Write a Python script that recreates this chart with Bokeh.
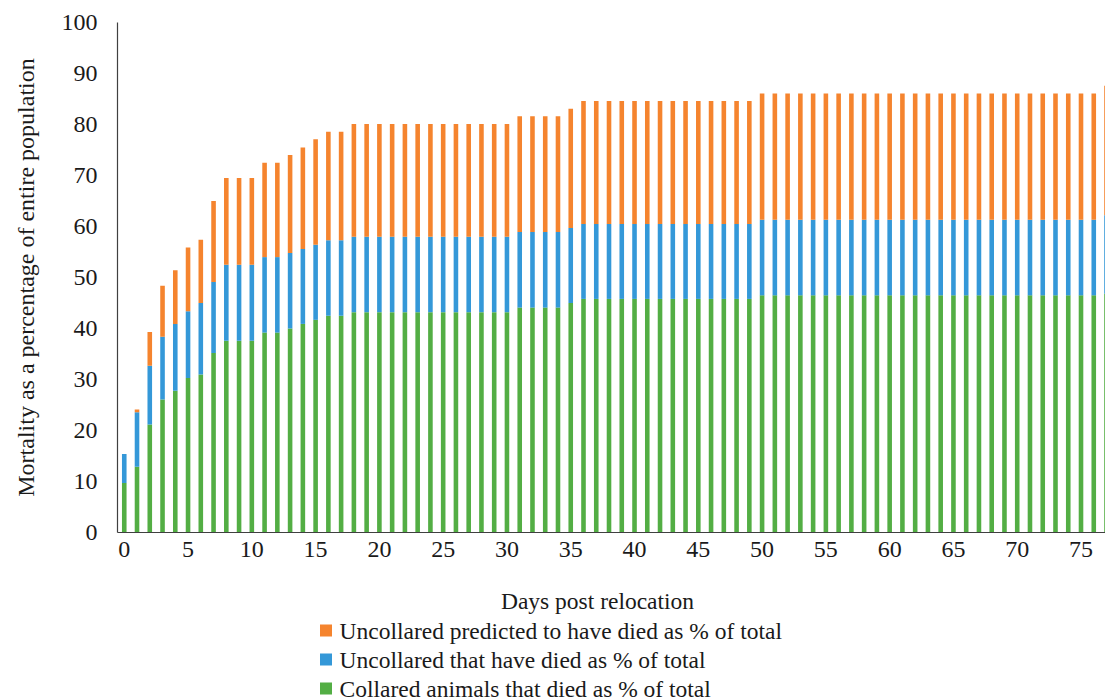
from bokeh.plotting import figure
from bokeh.layouts import column
from bokeh.models import Range1d, FixedTicker, ColumnDataSource
from bokeh.core.properties import value
from bokeh.embed import file_html
from bokeh.resources import INLINE

days = list(range(78))

collared = [9.7, 12.9, 21.2, 26.1, 27.8, 30.3, 31.0, 35.2, 37.6, 37.6,
            37.6, 39.2, 39.2, 40.0, 40.9, 41.7, 42.5, 42.5, 43.2, 43.2,
            43.2, 43.2, 43.2, 43.2, 43.2, 43.2, 43.2, 43.2, 43.2, 43.2,
            43.2, 44.1, 44.1, 44.1, 44.1, 45.0, 45.8, 45.8, 45.8, 45.8,
            45.8, 45.8, 45.8, 45.8, 45.8, 45.8, 45.8, 45.8, 45.8, 45.8,
            46.5, 46.5, 46.5, 46.5, 46.5, 46.5, 46.5, 46.5, 46.5, 46.5,
            46.5, 46.5, 46.5, 46.5, 46.5, 46.5, 46.5, 46.5, 46.5, 46.5,
            46.5, 46.5, 46.5, 46.5, 46.5, 46.5, 46.5, 46.8]

uncollared_died = [5.7, 10.7, 11.5, 12.3, 13.1, 13.1, 14.0, 13.9, 14.9, 14.9,
                   14.9, 14.8, 14.8, 14.8, 14.7, 14.7, 14.8, 14.8, 14.8, 14.8,
                   14.8, 14.8, 14.8, 14.8, 14.8, 14.8, 14.8, 14.8, 14.8, 14.8,
                   14.8, 14.8, 14.8, 14.8, 14.8, 14.7, 14.7, 14.7, 14.7, 14.7,
                   14.7, 14.7, 14.7, 14.7, 14.7, 14.7, 14.7, 14.7, 14.7, 14.7,
                   14.8, 14.8, 14.8, 14.8, 14.8, 14.8, 14.8, 14.8, 14.8, 14.8,
                   14.8, 14.8, 14.8, 14.8, 14.8, 14.8, 14.8, 14.8, 14.8, 14.8,
                   14.8, 14.8, 14.8, 14.8, 14.8, 14.8, 14.8, 15.4]

uncollared_predicted = [0.0, 0.5, 6.6, 10.0, 10.5, 12.5, 12.4, 15.9, 17.0, 17.0,
                        17.0, 18.5, 18.5, 19.2, 19.9, 20.7, 21.3, 21.3, 22.1, 22.1,
                        22.1, 22.1, 22.1, 22.1, 22.1, 22.1, 22.1, 22.1, 22.1, 22.1,
                        22.1, 22.7, 22.7, 22.7, 22.7, 23.4, 24.1, 24.1, 24.1, 24.1,
                        24.1, 24.1, 24.1, 24.1, 24.1, 24.1, 24.1, 24.1, 24.1, 24.1,
                        24.8, 24.8, 24.8, 24.8, 24.8, 24.8, 24.8, 24.8, 24.8, 24.8,
                        24.8, 24.8, 24.8, 24.8, 24.8, 24.8, 24.8, 24.8, 24.8, 24.8,
                        24.8, 24.8, 24.8, 24.8, 24.8, 24.8, 24.8, 25.4]

x_ticks = [0, 5, 10, 15, 20, 25, 30, 35, 40, 45, 50, 55, 60, 65, 70, 75]
y_ticks = [0, 10, 20, 30, 40, 50, 60, 70, 80, 90, 100]

series_names = ["Collared animals that died as % of total",
                "Uncollared that have died as % of total",
                "Uncollared predicted to have died as % of total"]
colors = ["#53AE44", "#3498D8", "#F5842E"]
x_title = "Days post relocation"
y_title = "Mortality as a percentage of entire population"

FONT = "Liberation Serif"
TXT = "#1a1a1a"
W = 1105
LEFT = 117

src = ColumnDataSource(dict(day=days, c=collared, u=uncollared_died, p=uncollared_predicted))

p = figure(width=W, height=575, output_backend="svg", toolbar_location=None,
           x_range=Range1d(-0.53, 76.92), y_range=Range1d(0, 100),
           min_border_left=LEFT, min_border_right=0, min_border_top=22,
           min_border_bottom=43)

p.vbar_stack(["c", "u", "p"], x="day", width=0.36, source=src,
             color=colors, line_color=None)

p.xgrid.visible = False
p.ygrid.visible = False
p.outline_line_color = None
p.background_fill_color = "white"
p.border_fill_color = "white"

for ax in (p.xaxis[0], p.yaxis[0]):
    ax.major_tick_line_color = None
    ax.minor_tick_line_color = None
    ax.major_tick_out = 0
    ax.major_tick_in = 0
    ax.axis_line_color = "#404040"
    ax.axis_line_width = 1.2
    ax.major_label_text_font = FONT
    ax.major_label_text_font_size = "24px"
    ax.major_label_text_color = TXT
    ax.axis_label_text_font = FONT
    ax.axis_label_text_font_size = "24px"
    ax.axis_label_text_font_style = "normal"
    ax.axis_label_text_color = TXT

p.xaxis.ticker = FixedTicker(ticks=x_ticks)
p.yaxis.ticker = FixedTicker(ticks=y_ticks)
p.yaxis.axis_label = y_title
p.xaxis.major_label_standoff = 9
p.yaxis.major_label_standoff = 20
p.yaxis.axis_label_standoff = 20

# lower panel: x-axis title and legend (its frame is aligned with the plot frame)
H2 = 125
q = figure(width=W, height=H2, output_backend="svg", toolbar_location=None,
           x_range=Range1d(LEFT, W), y_range=Range1d(H2, 0),
           min_border_left=LEFT, min_border_right=0, min_border_top=0, min_border_bottom=0,
           x_axis_location=None, y_axis_location=None)
q.xgrid.visible = False
q.ygrid.visible = False
q.outline_line_color = None
q.border_fill_color = "white"

q.text(x=[597], y=[25], text=[x_title], text_font=value(FONT), text_font_size="23.5px",
       text_color=TXT, text_align="center", text_baseline="middle")

leg_names = [series_names[2], series_names[1], series_names[0]]
leg_colors = [colors[2], colors[1], colors[0]]
leg_y = [55, 84, 113]
q.rect(x=[325.5] * 3, y=leg_y, width=12, height=12, color=leg_colors, line_color=None)
q.text(x=[339] * 3, y=leg_y, text=leg_names, text_font=value(FONT), text_font_size="23.5px",
       text_color=TXT, text_align="left", text_baseline="middle")

open("out.html", "w").write(file_html(column(p, q, spacing=0), INLINE))
